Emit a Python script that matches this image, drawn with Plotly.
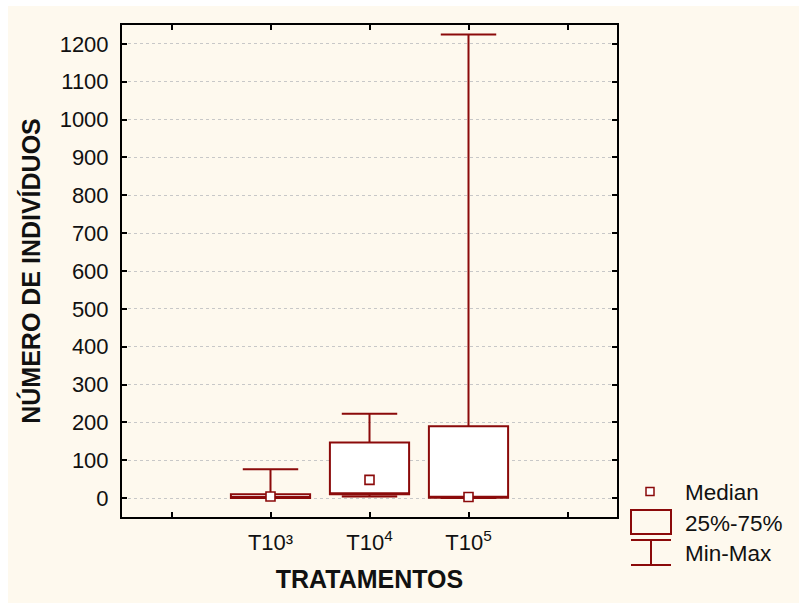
import plotly.graph_objects as go

# ---- data ----
categories = ["T10³", "T10<sup>4</sup>", "T10<sup>5</sup>"]
positions = [1, 2, 3]
minimum = [0, 4, 0]
q1 = [0, 10, 1]
median = [4, 48, 3]
q3 = [10, 147, 190]
maximum = [76, 223, 1225]

y_ticks = list(range(0, 1300, 100))

MAROON = "#8B0A0A"
CREAM = "#FEF9EE"
FONT = "Liberation Sans, Arial, sans-serif"

fig = go.Figure()

# box (median line hidden on the q1 edge; median drawn as marker)
fig.add_trace(go.Box(
    x=positions, q1=q1, median=q1, q3=q3,
    lowerfence=minimum, upperfence=maximum,
    width=0.8, whiskerwidth=0.7,
    fillcolor="white",
    line=dict(color=MAROON, width=2),
    boxpoints=False, showlegend=False, hoverinfo="skip",
))
fig.add_trace(go.Scatter(
    x=positions, y=median, mode="markers",
    marker=dict(symbol="square", size=9, color="white",
                line=dict(color=MAROON, width=1.6)),
    showlegend=False, hoverinfo="skip",
))

# plot area in pixels: x 122..617, y 25..517
L, R, T, B = 122, 617, 25, 517
W, H = R - L, B - T


def px(x):
    return (x - L) / W


def py(y):
    return (B - y) / H


shapes = [
    # cream page background (white strip at top/left)
    dict(type="rect", xref="paper", yref="paper", layer="below",
         x0=px(8), x1=px(805), y0=py(6), y1=py(610),
         fillcolor=CREAM, line=dict(width=0)),
    # legend: box icon
    dict(type="rect", xref="paper", yref="paper",
         x0=px(631), x1=px(671), y0=py(510), y1=py(534),
         fillcolor="rgba(0,0,0,0)", line=dict(color=MAROON, width=2)),
    # legend: whisker icon
    dict(type="line", xref="paper", yref="paper",
         x0=px(631), x1=px(671), y0=py(540), y1=py(540),
         line=dict(color=MAROON, width=2)),
    dict(type="line", xref="paper", yref="paper",
         x0=px(651), x1=px(651), y0=py(540), y1=py(565),
         line=dict(color=MAROON, width=2)),
    dict(type="line", xref="paper", yref="paper",
         x0=px(631), x1=px(671), y0=py(565), y1=py(565),
         line=dict(color=MAROON, width=2)),
    # legend: median icon
    dict(type="rect", xref="paper", yref="paper",
         x0=px(646), x1=px(654), y0=py(487.5), y1=py(495.5),
         fillcolor="white", line=dict(color=MAROON, width=1.5)),
]

legend_labels = ["Median", "25%-75%", "Min-Max"]
legend_y = [492, 523, 553]
annotations = [
    dict(xref="paper", yref="paper", x=px(683), y=py(yy), text=t,
         showarrow=False, xanchor="left", yanchor="middle",
         font=dict(family=FONT, size=22.5, color="#111111"))
    for t, yy in zip(legend_labels, legend_y)
]

fig.update_layout(
    width=799, height=603,
    margin=dict(l=L, r=799 - R, t=T, b=603 - B),
    paper_bgcolor="white", plot_bgcolor="white",
    shapes=shapes, annotations=annotations,
    font=dict(family=FONT, color="#111111"),
    showlegend=False,
)
fig.update_xaxes(
    range=[-0.5, 4.5],
    tickvals=positions, ticktext=categories,
    ticks="inside", ticklen=5, tickwidth=1.5, tickcolor="black",
    minor=dict(tickvals=[0, 4], ticks="inside", ticklen=5,
               tickwidth=1.5, tickcolor="black", showgrid=False),
    showline=True, linecolor="black", linewidth=2, mirror="ticks",
    showgrid=False, zeroline=False,
    tickfont=dict(family=FONT, size=22, color="#111111"),
    ticklabelstandoff=5,
    title=dict(text="<b>TRATAMENTOS</b>", standoff=16,
               font=dict(family=FONT, size=25, color="#111111")),
)
fig.update_yaxes(
    range=[-50, 1250],
    tickvals=y_ticks,
    ticks="inside", ticklen=5, tickwidth=1.5, tickcolor="black",
    showline=True, linecolor="black", linewidth=2, mirror="ticks",
    showgrid=True, gridcolor="#C8C8C8", griddash="dot", gridwidth=1,
    zeroline=False,
    tickfont=dict(family=FONT, size=22, color="#111111"),
    ticklabelstandoff=7,
    title=dict(text="<b>NÚMERO DE INDIVÍDUOS</b>", standoff=12,
               font=dict(family=FONT, size=25, color="#111111")),
)

fig.write_html("out.html")
